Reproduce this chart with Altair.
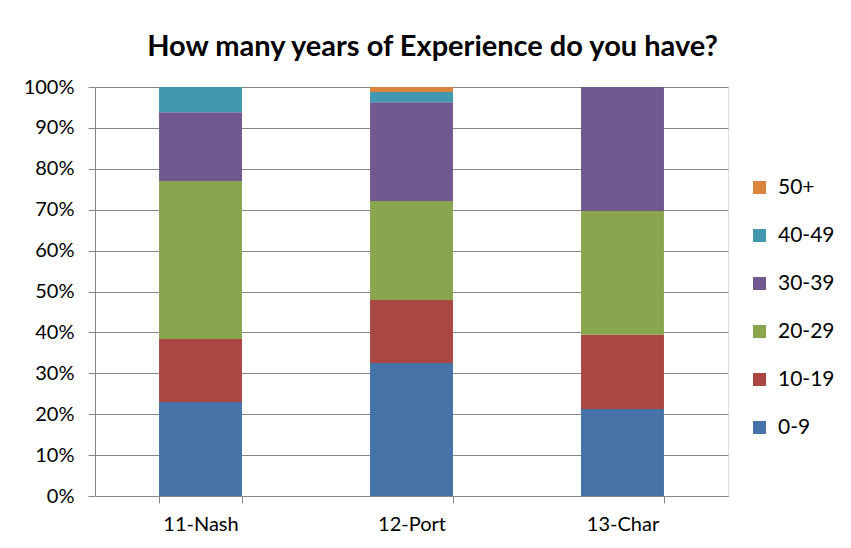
import altair as alt
import pandas as pd

locations = ["11-Nash", "12-Port", "13-Char"]
series = ["0-9", "10-19", "20-29", "30-39", "40-49", "50+"]
values = {
    "0-9":   [23.0, 32.5, 21.3],
    "10-19": [15.4, 15.4, 18.1],
    "20-29": [38.6, 24.2, 30.3],
    "30-39": [16.8, 24.2, 30.3],
    "40-49": [6.2, 2.5, 0.0],
    "50+":   [0.0, 1.2, 0.0],
}
colors = ["#4572A7", "#AA4643", "#89A54E", "#71588F", "#4198AF", "#DB843D"]

rows = []
for i, s in enumerate(series):
    for j, loc in enumerate(locations):
        rows.append({"loc": loc, "series": s, "value": values[s][j], "order": i})
df = pd.DataFrame(rows)

font = "Lato"

chart = alt.Chart(df).mark_bar(stroke=None).encode(
    x=alt.X("loc:N", sort=locations, title=None,
            scale=alt.Scale(paddingInner=0.607, paddingOuter=0.3035),
            axis=alt.Axis(labelAngle=0, tickBand="extent", labelFontSize=20,
                          labelPadding=11, tickSize=7, domainColor="#868686",
                          tickColor="#868686", labelColor="#000000", labelFont=font)),
    y=alt.Y("value:Q", stack="normalize", title=None,
            scale=alt.Scale(domain=[0, 1]),
            axis=alt.Axis(format=".0%", values=[i / 10 for i in range(11)],
                          labelFontSize=20, labelPadding=14, tickSize=7,
                          domainColor="#868686", tickColor="#868686",
                          gridColor="#868686", labelColor="#000000", labelFont=font)),
    color=alt.Color("series:N",
                    scale=alt.Scale(domain=series[::-1], range=colors[::-1]),
                    legend=alt.Legend(title=None, labelFontSize=21, labelFont=font,
                                      symbolType="square", symbolSize=169,
                                      rowPadding=26, labelOffset=8,
                                      symbolStrokeWidth=0, labelColor="#000000",
                                      orient="none", legendX=654, legendY=90)),
    order=alt.Order("order:Q", sort="ascending"),
).properties(
    width=633, height=409,
    title=alt.TitleParams("How many years of Experience do you have?",
                          fontSize=29, font=font, fontWeight="bold", color="#000000",
                          anchor="middle", dx=21, offset=15),
    padding={"left": 87, "top": 79, "right": 115, "bottom": 44},
    autosize=alt.AutoSizeParams(type="none"),
).configure_view(stroke=None).configure(background="#ffffff")

chart.save("out.html", embed_options={"renderer": "svg", "actions": False})
